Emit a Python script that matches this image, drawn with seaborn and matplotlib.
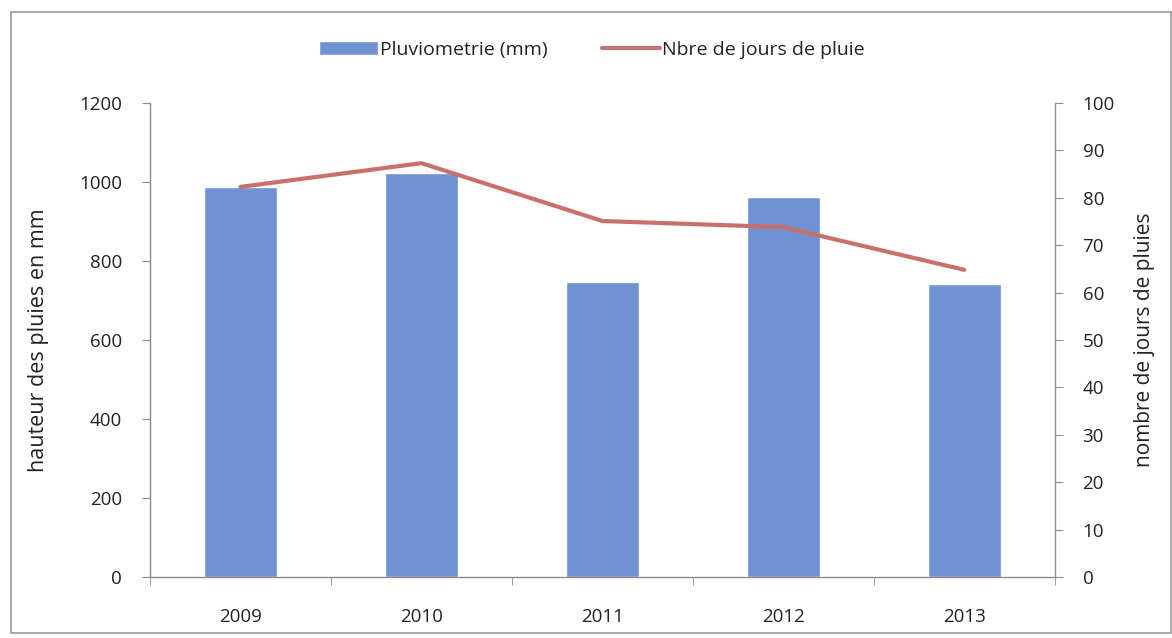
import pandas as pd
import seaborn as sns
import matplotlib.pyplot as plt
from matplotlib.patches import Rectangle

years = ["2009", "2010", "2011", "2012", "2013"]
pluvio_mm = [987, 1022, 747, 962, 742]
jours_pluie = [82.3, 87.3, 75.1, 73.8, 64.8]

df = pd.DataFrame({"annee": years, "pluvio": pluvio_mm, "jours": jours_pluie})

sns.set_style("white")
plt.rcParams["font.family"] = ["Open Sans", "DejaVu Sans"]

bar_color = "#7092d2"
line_color = "#c8716b"
axis_color = "#8c8c8c"
text_color = "#222222"

fig = plt.figure(figsize=(11.72, 6.38), dpi=100)
ax = fig.add_axes([0.128, 0.0956, 0.772, 0.743])

sns.barplot(data=df, x="annee", y="pluvio", color=bar_color, width=0.4,
            saturation=1, ax=ax, label="Pluviometrie (mm)")
ax.set_ylim(0, 1200)
ax.set_xlim(-0.5, 4.5)
ax.set_yticks(range(0, 1201, 200))
ax.set_xlabel("")
ax.set_ylabel("hauteur des pluies en mm", fontsize=15.5, labelpad=22, color=text_color)

ax2 = ax.twinx()
sns.lineplot(data=df, x="annee", y="jours", color=line_color, linewidth=3,
             ax=ax2, label="Nbre de jours de pluie")
ax2.set_ylim(0, 100)
ax2.set_yticks(range(0, 101, 10))
ax2.set_ylabel("nombre de jours de pluies", fontsize=15, labelpad=14, color=text_color)
ax2.set_xlim(-0.5, 4.5)

# ticks at category boundaries on x
ax.set_xticks([-0.5, 0.5, 1.5, 2.5, 3.5, 4.5], minor=True)
ax.tick_params(axis="x", which="major", length=0, labelsize=13.5, pad=22, labelcolor=text_color)
ax.tick_params(axis="x", which="minor", length=6, color=axis_color, direction="out", bottom=True)
ax.tick_params(axis="y", length=6, color=axis_color, direction="out", labelsize=13.5, pad=14,
               left=True, labelcolor=text_color)
ax2.tick_params(axis="y", length=6, color=axis_color, direction="out", labelsize=13.5, pad=14,
                right=True, labelcolor=text_color)

for a in (ax, ax2):
    a.spines["top"].set_visible(False)
    for s in ("left", "right", "bottom"):
        a.spines[s].set_color(axis_color)
        a.spines[s].set_linewidth(1.0)
ax.spines["right"].set_visible(False)
ax2.spines["left"].set_visible(False)
ax2.spines["bottom"].set_visible(False)

# combined legend on top
h1, l1 = ax.get_legend_handles_labels()
h2, l2 = ax2.get_legend_handles_labels()
if ax.get_legend():
    ax.get_legend().remove()
if ax2.get_legend():
    ax2.get_legend().remove()
leg = fig.legend(h1 + h2, l1 + l2, loc="center", bbox_to_anchor=(0.505, 0.922), ncol=2,
                 frameon=False, fontsize=14, handlelength=3.0, handletextpad=0.1,
                 columnspacing=2.8)
for t in leg.get_texts():
    t.set_color(text_color)

# outer frame
fig.patches.append(Rectangle((0.009, 0.008), 0.99, 0.973, transform=fig.transFigure,
                             fill=False, edgecolor="#9a9a9a", linewidth=1.2))

fig.savefig("out.png", dpi=100)
